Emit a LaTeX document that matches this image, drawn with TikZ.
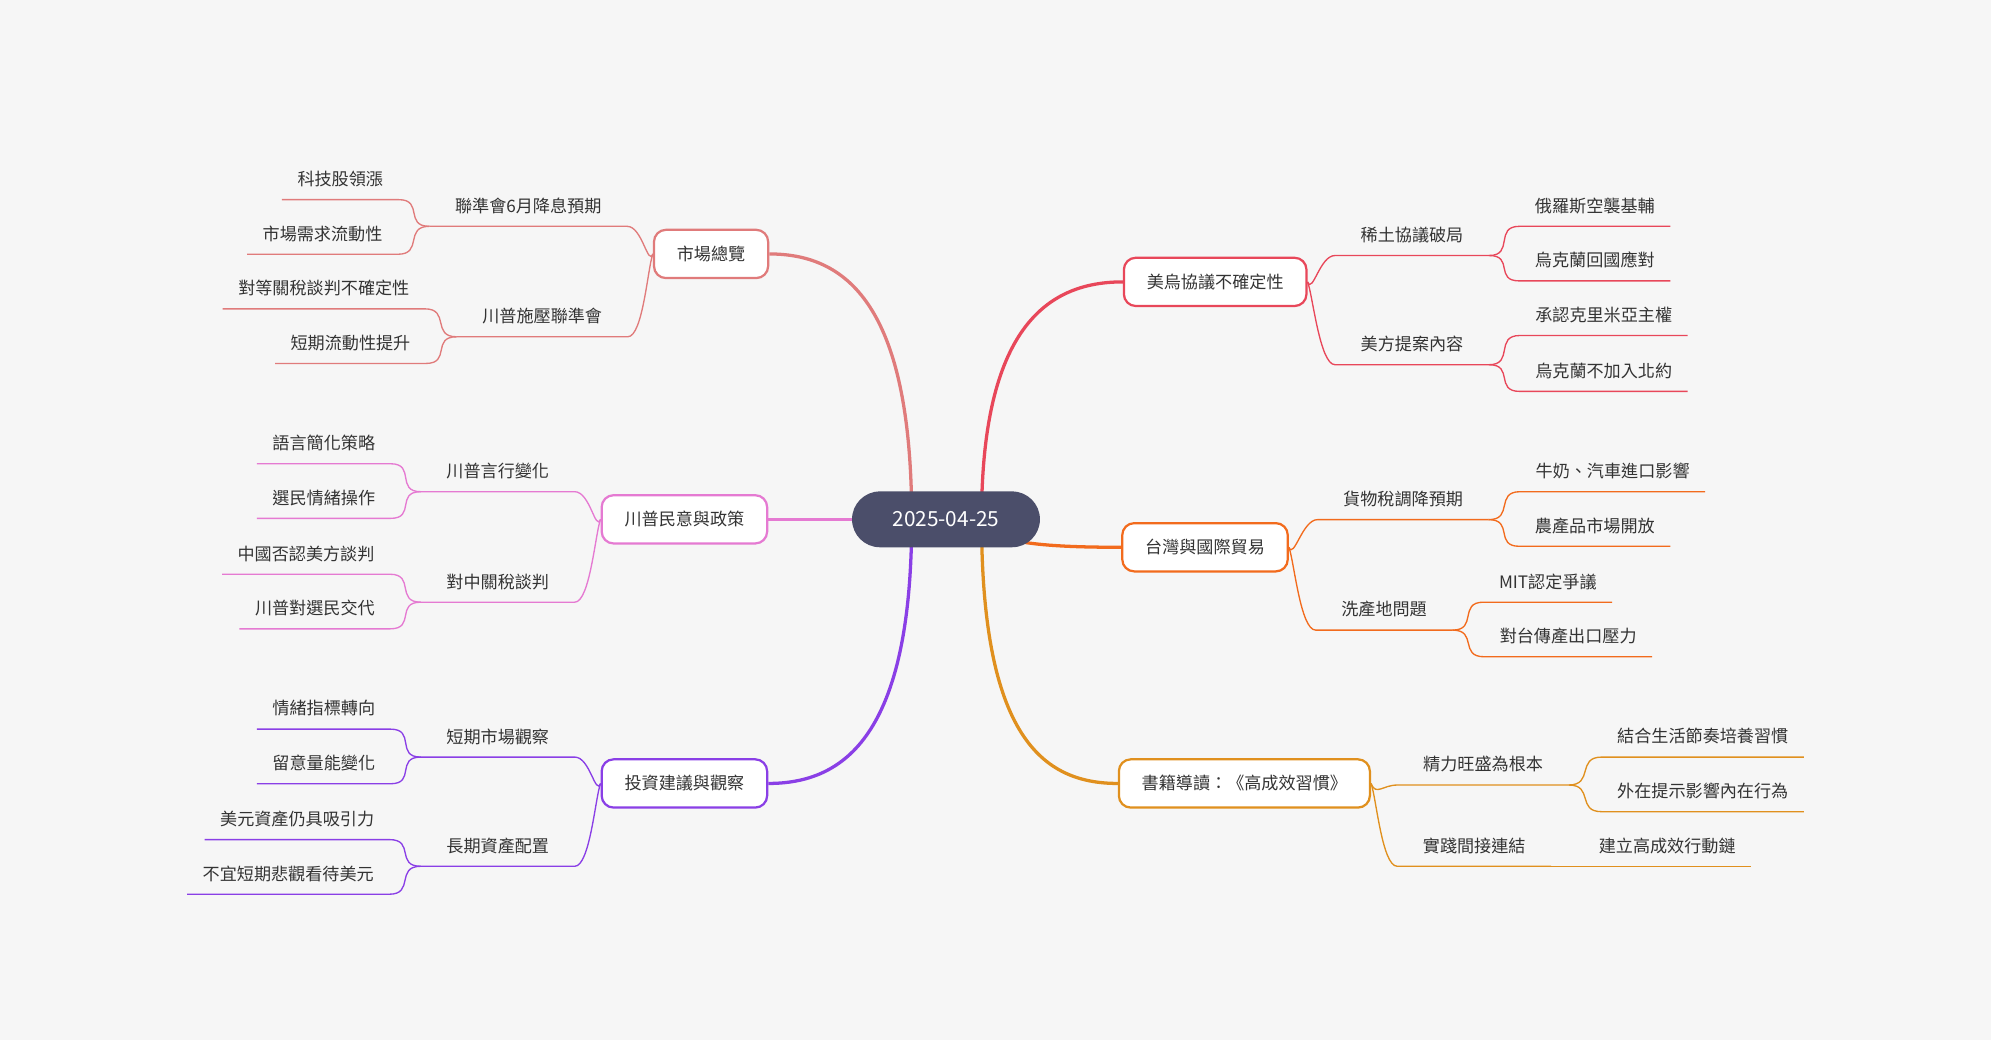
\documentclass[tikz,border=0pt]{standalone}
\usepackage{fontspec}
\setmainfont{Noto Sans CJK TC}
\usetikzlibrary{backgrounds}
\definecolor{cred}{HTML}{E8475A}
\definecolor{corange}{HTML}{F26B1D}
\definecolor{cgold}{HTML}{E0901E}
\definecolor{csalmon}{HTML}{E07B7B}
\definecolor{cpink}{HTML}{E57AD2}
\definecolor{cpurple}{HTML}{8A3FE6}
\definecolor{ccenter}{HTML}{4B4E6A}
\definecolor{cbg}{HTML}{F6F6F6}
\begin{document}
\begin{tikzpicture}[x=0.03cm,y=-0.03cm,font=\fontsize{11.5}{13}\selectfont]
		\tikzset{root/.style = {fill=ccenter,text=white,rounded corners=22*0.03cm,minimum width=148*0.03cm,minimum height=44*0.03cm,font=\fontsize{14}{16}\selectfont}}
		\tikzset{topic/.style = {draw=#1,line width=1.5pt,fill=white,rounded corners=8pt,minimum height=38*0.03cm,inner xsep=18*0.03cm,text=black!80}}
		\tikzset{sub/.style = {minimum height=32*0.03cm,inner ysep=0pt,inner xsep=20*0.03cm,text=black!80}}
		\tikzset{leaf/.style = {minimum height=32*0.03cm,inner ysep=0pt,inner xsep=12*0.03cm,text=black!80}}
		\tikzset{edge/.style = {draw=#1,line width=0.9pt}}
		\tikzset{trunk/.style = {draw=#1,line width=2.2pt}}
		\useasboundingbox (0,0) rectangle (1568,819);
		% root
		\node[root] (c) at (745,409) {2025-04-25};
		\coordinate (cl) at (718,409);
		\coordinate (cr) at (773,409);
		% topics
		\node[topic=csalmon] (m1) at (560,200) {市場總覽};
		\node[topic=cpink] (m2) at (539,409) {川普民意與政策};
		\node[topic=cpurple] (m3) at (539,617) {投資建議與觀察};
		\node[topic=cred] (m4) at (957,222) {美烏協議不確定性};
		\node[topic=corange] (m5) at (949,431) {台灣與國際貿易};
		\node[topic=cgold] (m6) at (980,617) {書籍導讀：《高成效習慣》};
		% sub topics
		\node[sub] (a1) at (416,162) {聯準會6月降息預期};
		\node[leaf] (a11) at (268,141) {科技股領漲};
		\node[leaf] (a12) at (254,184) {市場需求流動性};
		\node[sub] (a2) at (427,249) {川普施壓聯準會};
		\node[leaf] (a21) at (255,227) {對等關稅談判不確定性};
		\node[leaf] (a22) at (276,270) {短期流動性提升};
		\node[sub] (b1) at (392,371) {川普言行變化};
		\node[leaf] (b11) at (255,349) {語言簡化策略};
		\node[leaf] (b12) at (255,392) {選民情緒操作};
		\node[sub] (b2) at (392,458) {對中關稅談判};
		\node[leaf] (b21) at (241,436) {中國否認美方談判};
		\node[leaf] (b22) at (248,479) {川普對選民交代};
		\node[sub] (d1) at (392,580) {短期市場觀察};
		\node[leaf] (d11) at (255,558) {情緒指標轉向};
		\node[leaf] (d12) at (255,601) {留意量能變化};
		\node[sub] (d2) at (392,666) {長期資產配置};
		\node[leaf] (d21) at (234,645) {美元資產仍具吸引力};
		\node[leaf] (d22) at (227,688) {不宜短期悲觀看待美元};
		\node[sub] (e1) at (1112,185) {稀土協議破局};
		\node[leaf] (e11) at (1256,162) {俄羅斯空襲基輔};
		\node[leaf] (e12) at (1256,205) {烏克蘭回國應對};
		\node[sub] (e2) at (1112,271) {美方提案內容};
		\node[leaf] (e21) at (1263,248) {承認克里米亞主權};
		\node[leaf] (e22) at (1263,292) {烏克蘭不加入北約};
		\node[sub] (f1) at (1105,393) {貨物稅調降預期};
		\node[leaf] (f11) at (1270,371) {牛奶、汽車進口影響};
		\node[leaf] (f12) at (1256,414) {農產品市場開放};
		\node[sub] (f2) at (1090,480) {洗產地問題};
		\node[leaf] (f21) at (1219,458) {MIT認定爭議};
		\node[leaf] (f22) at (1235,501) {對台傳產出口壓力};
		\node[sub] (g1) at (1168,602) {精力旺盛為根本};
		\node[leaf] (g11) at (1341,580) {結合生活節奏培養習慣};
		\node[leaf] (g12) at (1341,623) {外在提示影響內在行為};
		\node[sub] (g2) at (1161,666) {實踐間接連結};
		\node[leaf] (g21) at (1313,666) {建立高成效行動鏈};
		
		\begin{scope}[on background layer]
		\fill[cbg] (0,0) rectangle (1568,819);
		%trunks
		\draw[trunk=csalmon] (cl) .. controls +(0,-170) and +(60,0) .. (m1.east);
		\draw[trunk=cpink] (c.west) -- (m2.east);
		\draw[trunk=cpurple] (cl) .. controls +(0,170) and +(60,0) .. (m3.east);
		\draw[trunk=cred] (cr) .. controls +(0,-150) and +(-60,0) .. (m4.west);
		\draw[trunk=corange] (cr) .. controls +(0,20) and +(-50,0) .. (m5.west);
		\draw[trunk=cgold] (cr) .. controls +(0,170) and +(-60,0) .. (m6.west);
		\end{scope}
		
		%left branches
		\foreach \m/\s/\col in {m1/a1/csalmon,m1/a2/csalmon,m2/b1/cpink,m2/b2/cpink,m3/d1/cpurple,m3/d2/cpurple}{
			\draw[edge=\col] (\s.south west) -- (\s.south east) .. controls +(12,0) and +(-4,10) .. (\m.west);
		}
		\foreach \s/\l/\col in {a1/a11/csalmon,a1/a12/csalmon,a2/a21/csalmon,a2/a22/csalmon,b1/b11/cpink,b1/b12/cpink,b2/b21/cpink,b2/b22/cpink,d1/d11/cpurple,d1/d12/cpurple,d2/d21/cpurple,d2/d22/cpurple}{
			\draw[edge=\col] (\l.south west) -- (\l.south east) .. controls +(20,0) and +(-20,0) .. (\s.south west);
		}
		%right branches
		\foreach \m/\s/\col in {m4/e1/cred,m4/e2/cred,m5/f1/corange,m5/f2/corange,m6/g1/cgold,m6/g2/cgold}{
			\draw[edge=\col] (\m.east) .. controls +(4,10) and +(-12,0) .. (\s.south west) -- (\s.south east);
		}
		\foreach \s/\l/\col in {e1/e11/cred,e1/e12/cred,e2/e21/cred,e2/e22/cred,f1/f11/corange,f1/f12/corange,f2/f21/corange,f2/f22/corange,g1/g11/cgold,g1/g12/cgold,g2/g21/cgold}{
			\draw[edge=\col] (\s.south east) .. controls +(20,0) and +(-20,0) .. (\l.south west) -- (\l.south east);
		}
		\end{tikzpicture}
\end{document}
